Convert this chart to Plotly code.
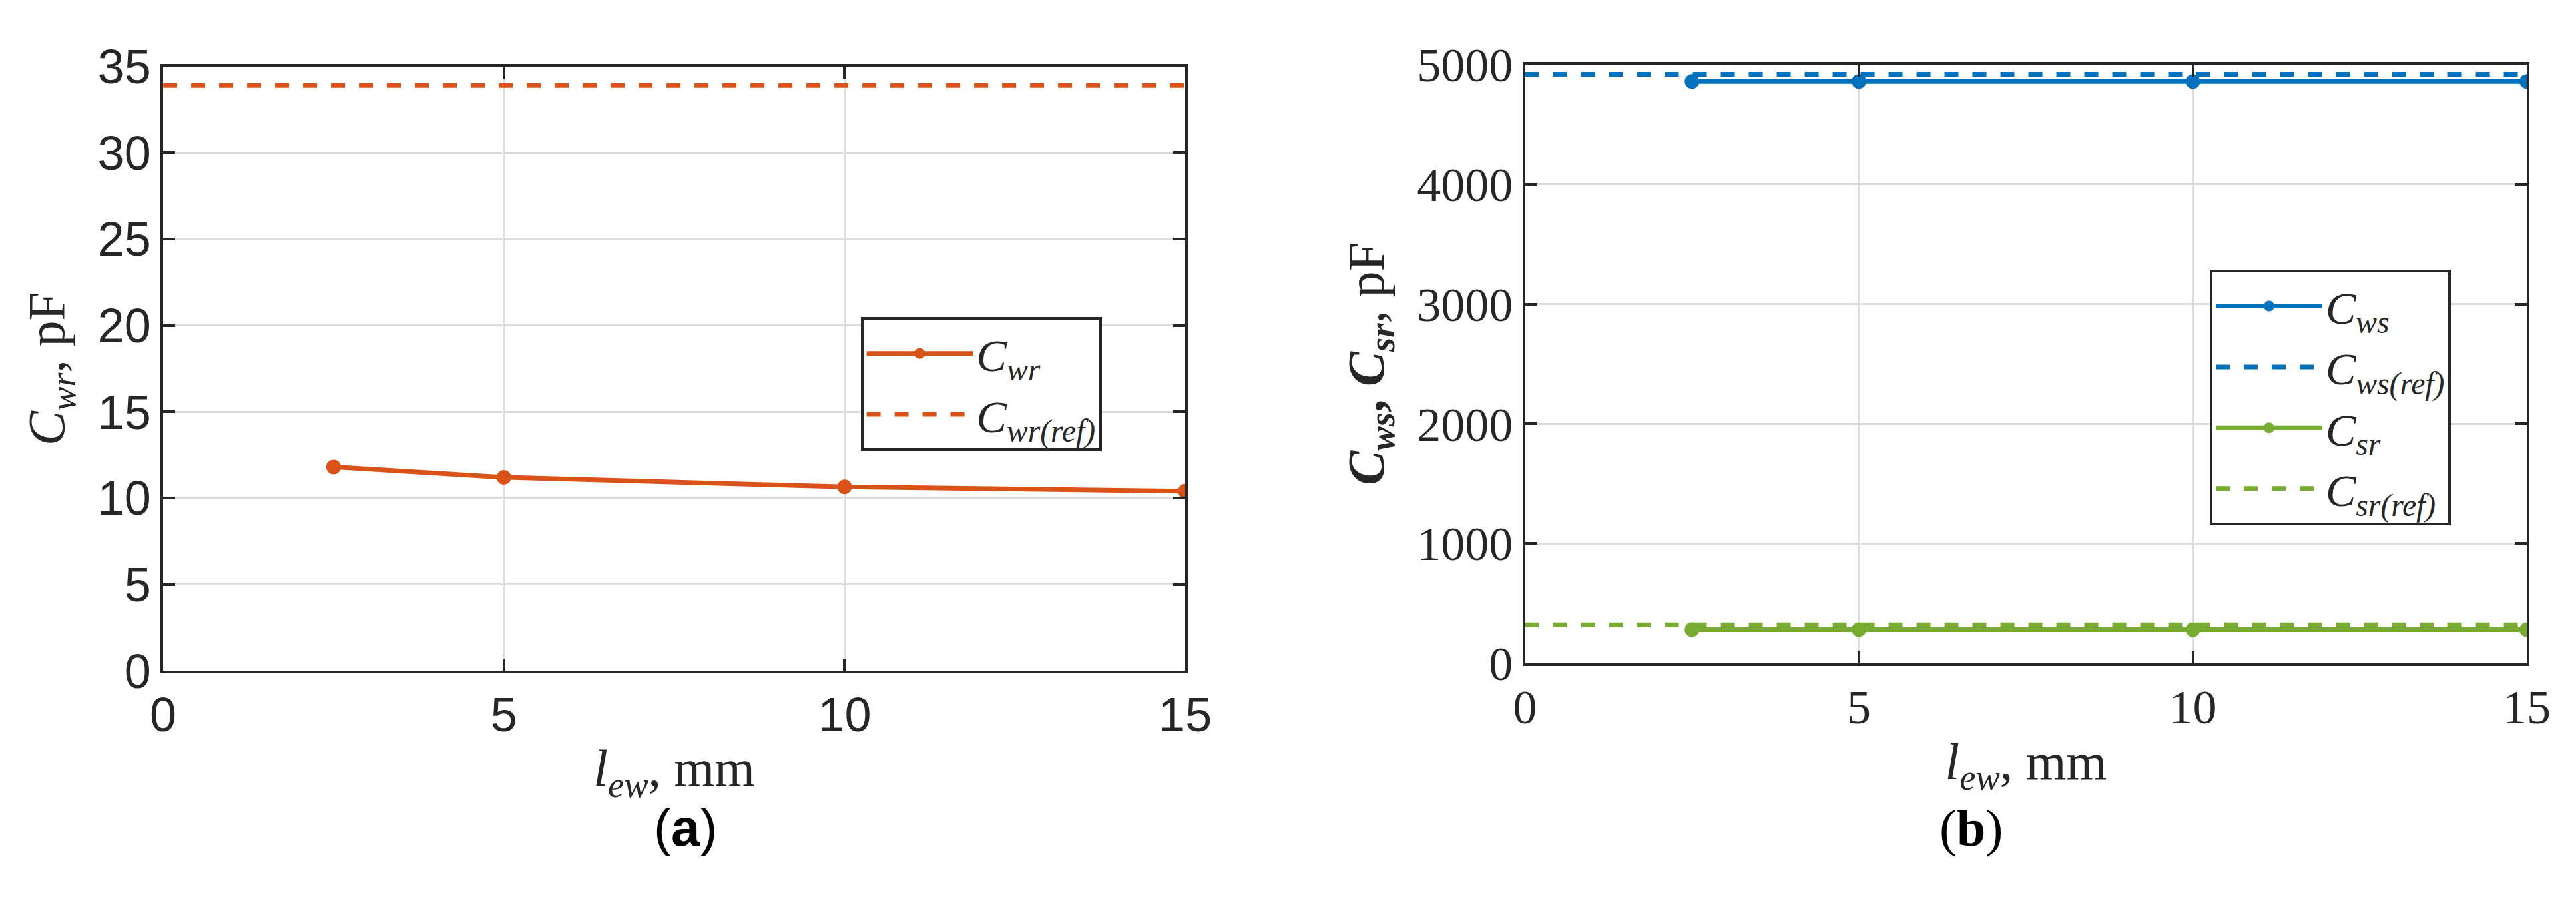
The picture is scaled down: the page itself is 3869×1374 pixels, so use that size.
import plotly.graph_objects as go
from plotly.subplots import make_subplots

l_ew = [2.5, 5, 10, 15]
c_wr = [11.8, 11.2, 10.65, 10.4]
c_wr_ref = 33.9
c_ws = [4860, 4860, 4860, 4860]
c_ws_ref = 4920
c_sr = [280, 280, 280, 280]
c_sr_ref = 320

orange = "#D95319"
blue = "#0072BD"
green = "#77AC30"
ink = "#262626"

fig = make_subplots(rows=1, cols=2)

fig.add_trace(go.Scatter(x=l_ew, y=c_wr, mode="lines+markers", name="<i>C<sub>wr</sub></i>",
                         line=dict(color=orange, width=7), marker=dict(size=22), legend="legend"), 1, 1)
fig.add_trace(go.Scatter(x=[0, 15], y=[c_wr_ref, c_wr_ref], mode="lines", name="<i>C<sub>wr(ref)</sub></i>",
                         line=dict(color=orange, width=7, dash="dash"), legend="legend"), 1, 1)

fig.add_trace(go.Scatter(x=l_ew, y=c_ws, mode="lines+markers", name="<i>C<sub>ws</sub></i>",
                         line=dict(color=blue, width=7), marker=dict(size=22), legend="legend2"), 1, 2)
fig.add_trace(go.Scatter(x=[0, 15], y=[c_ws_ref, c_ws_ref], mode="lines", name="<i>C<sub>ws(ref)</sub></i>",
                         line=dict(color=blue, width=7, dash="dash"), legend="legend2"), 1, 2)
fig.add_trace(go.Scatter(x=l_ew, y=c_sr, mode="lines+markers", name="<i>C<sub>sr</sub></i>",
                         line=dict(color=green, width=7), marker=dict(size=22), legend="legend2"), 1, 2)
fig.add_trace(go.Scatter(x=[0, 15], y=[c_sr_ref, c_sr_ref], mode="lines", name="<i>C<sub>sr(ref)</sub></i>",
                         line=dict(color=green, width=7, dash="dash"), legend="legend2"), 1, 2)

axis_style = dict(showline=True, linecolor=ink, linewidth=4, mirror="ticks", ticks="inside",
                  ticklen=18, tickwidth=4, tickcolor=ink, showgrid=True, gridcolor="#dddddd",
                  gridwidth=3, zeroline=False)
sans = dict(family="Liberation Sans Narrow, Liberation Sans", size=72, color=ink)
serif = dict(family="Liberation Serif", size=72, color=ink)
title_font = dict(family="Liberation Serif", size=78, color=ink)

fig.update_xaxes(axis_style, range=[0, 15], dtick=5)
fig.update_xaxes(domain=[0.057, 0.46], tickfont=sans, row=1, col=1,
                 title=dict(text="<i>l<sub>ew</sub></i>, mm", font=title_font))
fig.update_xaxes(domain=[0.594, 0.989], tickfont=serif, row=1, col=2,
                 title=dict(text="<i>l<sub>ew</sub></i>, mm", font=title_font))
fig.update_yaxes(axis_style)
fig.update_yaxes(domain=[0.258, 0.96], range=[0, 35], dtick=5, tickfont=sans, row=1, col=1,
                 title=dict(text="<i>C<sub>wr</sub></i>, pF", font=title_font, standoff=25))
fig.update_yaxes(domain=[0.267, 0.962], range=[0, 5000], dtick=1000, tickfont=serif, row=1, col=2,
                 title=dict(text="<b><i>C<sub>ws</sub></i>, <i>C<sub>sr</sub></i></b>, pF",
                            font=title_font, standoff=25))

legend_style = dict(bgcolor="white", bordercolor=ink, borderwidth=4,
                    font=dict(family="Liberation Serif", size=68, color=ink),
                    xanchor="left", yanchor="top", tracegroupgap=0, itemwidth=160)
fig.update_layout(
    legend=dict(legend_style, x=0.332, y=0.669),
    legend2=dict(legend_style, x=0.864, y=0.724),
    showlegend=True,
    plot_bgcolor="white", paper_bgcolor="white",
    width=3869, height=1374, margin=dict(l=0, r=0, t=0, b=0),
)

fig.add_annotation(text="(<b>a</b>)", x=0.25, y=0.04, xref="paper", yref="paper", showarrow=False,
                   font=dict(family="Liberation Sans", size=78, color="black"))
fig.add_annotation(text="(<b>b</b>)", x=0.783, y=0.04, xref="paper", yref="paper", showarrow=False,
                   font=dict(family="Liberation Serif", size=78, color="black"))

fig.write_html("out.html")
